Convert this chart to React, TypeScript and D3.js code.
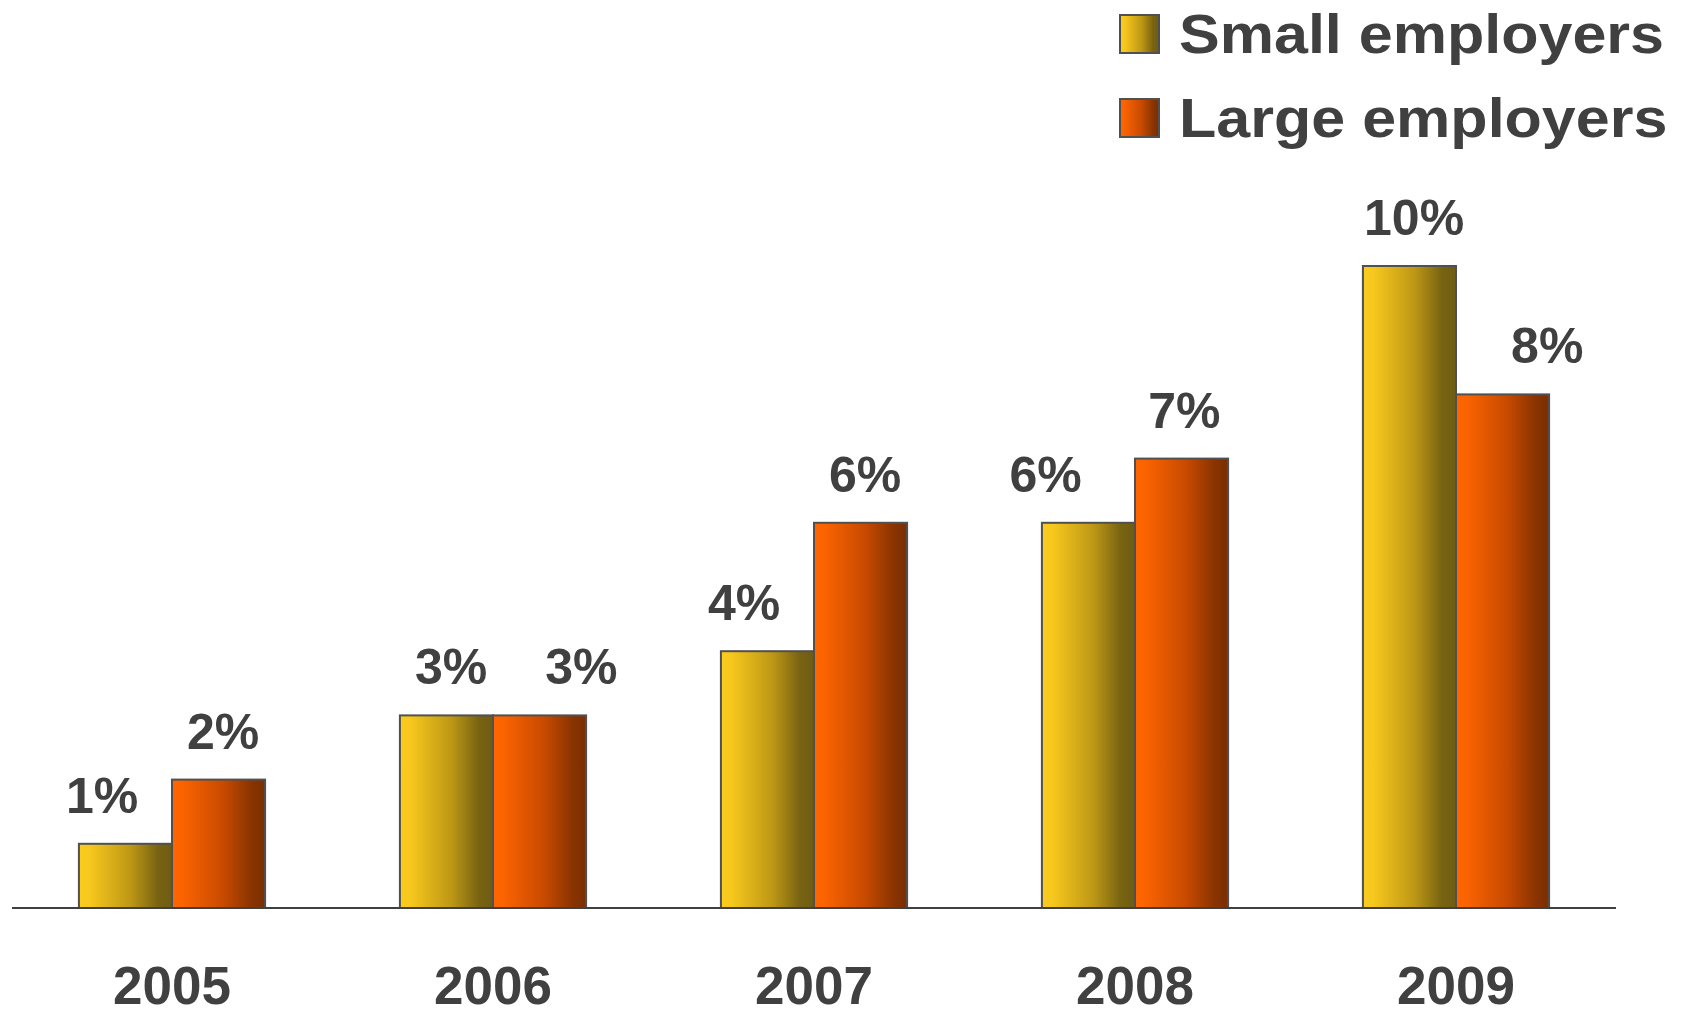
import React from "react";
import * as d3 from "d3";

// Share of employers, by year and employer size (percent)
const years = ["2005", "2006", "2007", "2008", "2009"];
const seriesKeys = ["small", "large"];
const seriesNames = ["Small employers", "Large employers"];
const smallValues = [1, 3, 4, 6, 10];
const largeValues = [2, 3, 6, 7, 8];

const W = 1693;
const H = 1011;
const baseY = 908;
const textColor = "#404040";
const font = "'Liberation Sans', Arial, Helvetica, sans-serif";

// horizontal nudge of each value label, in bar widths (small, large per year)
const labelNudge = [
  [-0.25, 0.05],
  [0.05, 0.45],
  [-0.25, 0.05],
  [-0.46, 0.03],
  [0.05, 0.48],
];

const gradients = {
  small: [
    { o: "0%", c: "#FACC1E" },
    { o: "12%", c: "#F6C71D" },
    { o: "55%", c: "#BE9815" },
    { o: "85%", c: "#786312" },
    { o: "100%", c: "#6E5C12" },
  ],
  large: [
    { o: "0%", c: "#FF6600" },
    { o: "12%", c: "#FA6300" },
    { o: "55%", c: "#C84A00" },
    { o: "85%", c: "#8A3400" },
    { o: "100%", c: "#7A2E00" },
  ],
};

export default function App() {
  const x = d3
    .scaleBand<string>()
    .domain(years)
    .range([11.5, 1616.5])
    .paddingInner(0.42)
    .paddingOuter(0.21);
  const xs = d3
    .scaleBand<string>()
    .domain(seriesKeys)
    .range([0, x.bandwidth()]);
  const y = d3.scaleLinear().domain([0, 10]).range([baseY, 266]);

  const values = [smallValues, largeValues];
  const bw = xs.bandwidth();

  return (
    <svg
      width={W}
      height={H}
      style={{ position: "absolute", left: 0, top: 0, background: "#fff" }}
    >
      <defs>
        {seriesKeys.map((k) => (
          <linearGradient key={k} id={`grad-${k}`} x1="0" x2="1" y1="0" y2="0">
            {gradients[k as "small" | "large"].map((s) => (
              <stop key={s.o} offset={s.o} stopColor={s.c} />
            ))}
          </linearGradient>
        ))}
      </defs>

      {/* bars */}
      {years.map((yr, i) => (
        <g key={yr} transform={`translate(${x(yr)},0)`}>
          {seriesKeys.map((k, s) => {
            const v = values[s][i];
            const bx = xs(k) as number;
            return (
              <rect
                key={k}
                x={bx}
                y={y(v)}
                width={bw}
                height={baseY - y(v)}
                fill={`url(#grad-${k})`}
                stroke="#505050"
                strokeWidth={2}
              />
            );
          })}
        </g>
      ))}

      {/* value labels */}
      {years.map((yr, i) =>
        seriesKeys.map((k, s) => {
          const v = values[s][i];
          const cx = (x(yr) as number) + (xs(k) as number) + bw / 2 + labelNudge[i][s] * bw;
          return (
            <text
              key={`${yr}-${k}`}
              x={cx}
              y={y(v) - 31}
              textAnchor="middle"
              fontFamily={font}
              fontWeight="bold"
              fontSize={50}
              fill={textColor}
            >
              {`${v}%`}
            </text>
          );
        })
      )}

      {/* baseline */}
      <line x1={12} x2={1616} y1={baseY} y2={baseY} stroke={textColor} strokeWidth={2} />

      {/* year labels */}
      {years.map((yr) => (
        <text
          key={yr}
          x={(x(yr) as number) + x.bandwidth() / 2}
          y={1004}
          textAnchor="middle"
          fontFamily={font}
          fontWeight="bold"
          fontSize={53}
          fill={textColor}
        >
          {yr}
        </text>
      ))}

      {/* legend */}
      {seriesKeys.map((k, s) => (
        <g key={k} transform={`translate(1120,${15 + s * 84})`}>
          <rect
            width={39}
            height={38}
            fill={`url(#grad-${k})`}
            stroke="#505050"
            strokeWidth={2}
          />
          <text
            transform="translate(59,38) scale(1.09,1)"
            fontFamily={font}
            fontWeight="bold"
            fontSize={56}
            fill={textColor}
          >
            {seriesNames[s]}
          </text>
        </g>
      ))}
    </svg>
  );
}
